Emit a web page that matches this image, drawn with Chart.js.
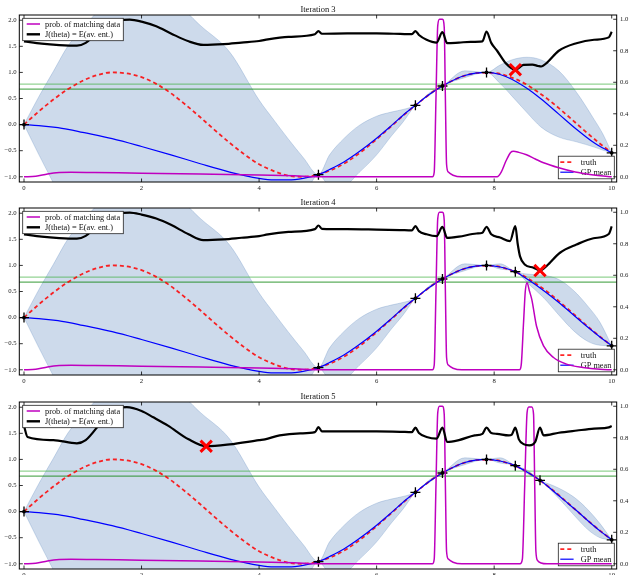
<!DOCTYPE html>
<html>
<head>
<meta charset="utf-8">
<script src="https://cdn.jsdelivr.net/npm/chart.js@4.4.0/dist/chart.umd.min.js"></script>
<style>
  html, body { margin: 0; padding: 0; background: #fff; width: 629px; height: 575px; overflow: hidden; }
  .panel { position: absolute; left: 0; width: 629px; height: 193px; }
</style>
</head>
<body>
<div class="panel" style="top:0px"><canvas id="iter3" width="629" height="193"></canvas></div>
<div class="panel" style="top:193px"><canvas id="iter4" width="629" height="193"></canvas></div>
<div class="panel" style="top:387px"><canvas id="iter5" width="629" height="193"></canvas></div>
<script>
// ---- data ----
const iterations = [3, 4, 5];

const xTicks = [0, 2, 4, 6, 8, 10];
const leftTicks = [-1.0, -0.5, 0.0, 0.5, 1.0, 1.5, 2.0];
const rightTicks = [0.0, 0.2, 0.4, 0.6, 0.8, 1.0];

// true function
const truthX = [0,0.25,0.5,0.75,1,1.25,1.5,1.75,2,2.25,2.5,2.75,3,3.25,3.5,3.75,4,4.25,4.5,4.75,5,
                5.25,5.5,5.75,6,6.25,6.5,6.75,7,7.25,7.5,7.75,8,8.25,8.5,8.75,9,9.25,9.5,9.75,10];
const truthY = [0.00,0.25,0.48,0.68,0.84,0.95,1.00,0.98,0.91,0.78,0.60,0.38,0.14,-0.11,-0.35,-0.57,-0.76,-0.89,-0.98,-1.00,-0.96,
                -0.86,-0.71,-0.51,-0.28,-0.03,0.22,0.45,0.66,0.82,0.94,0.99,0.99,0.92,0.80,0.62,0.41,0.17,-0.08,-0.32,-0.54];

// horizontal reference levels
const levelX = [-1, 11];
const levelHigh = 0.775;
const levelLow = 0.68;

// GP posterior: mean with upper and lower edges of the shaded band
const gpX3 = [0,0.25,0.5,0.75,1,1.5,2,2.5,3,3.5,4,4.25,4.5,4.75,5.01,5.2,5.45,5.7,6,6.25,6.45,6.66,6.9,7.12,7.5,7.87,8.1,8.3,8.55,8.8,9.1,9.4,9.7,9.85,10];
const gpMean3 = [0,-0.02,-0.05,-0.09,-0.15,-0.27,-0.42,-0.58,-0.75,-0.91,-1.03,-1.06,-1.06,-1.03,-0.96,-0.86,-0.71,-0.52,-0.26,-0.02,0.18,0.37,0.58,0.74,0.94,1.0,0.96,0.87,0.70,0.49,0.20,-0.09,-0.35,-0.45,-0.54];
const gpUpper3 = [0,0.53,1.02,1.51,1.85,2.43,2.68,2.42,1.90,1.39,0.47,0.09,-0.28,-0.63,-0.96,
                  -0.58,-0.26,-0.02,0.16,0.24,0.29,0.37,0.61,0.74,1.03,1.0,1.14,1.24,1.29,1.24,1.03,0.62,0.10,-0.18,-0.54];
const gpLower3 = [0,-0.57,-1.12,-1.69,-2.15,-2.97,-3.52,-3.58,-3.40,-3.21,-2.53,-2.21,-1.84,-1.43,-0.96,
                  -1.16,-1.16,-0.92,-0.58,-0.22,0.05,0.37,0.56,0.74,0.90,1.0,0.79,0.55,0.24,-0.05,-0.24,-0.33,-0.43,-0.49,-0.54];

const gpX4 = [0,0.25,0.5,0.75,1,1.5,2,2.5,3,3.5,4,4.25,4.5,4.75,5.01,5.2,5.45,5.7,6,6.25,6.45,6.66,6.9,7.12,7.5,7.87,8.1,8.36,8.6,8.85,9.1,9.35,9.6,9.8,10];
const gpMean4 = [0,-0.02,-0.05,-0.09,-0.15,-0.27,-0.42,-0.58,-0.75,-0.91,-1.03,-1.06,-1.06,-1.03,-0.96,-0.86,-0.71,-0.52,-0.26,-0.02,0.18,0.37,0.58,0.74,0.94,1.0,0.97,0.88,0.71,0.51,0.29,0.05,-0.19,-0.37,-0.54];
const gpUpper4 = [0,0.53,1.02,1.51,1.85,2.43,2.68,2.42,1.90,1.39,0.47,0.09,-0.28,-0.63,-0.96,
                  -0.58,-0.26,-0.02,0.16,0.24,0.29,0.37,0.61,0.74,1.03,1.0,1.03,0.88,0.83,0.81,0.73,0.52,0.21,-0.09,-0.54];
const gpLower4 = [0,-0.57,-1.12,-1.69,-2.15,-2.97,-3.52,-3.58,-3.40,-3.21,-2.53,-2.21,-1.84,-1.43,-0.96,
                  -1.16,-1.16,-0.92,-0.58,-0.22,0.05,0.37,0.56,0.74,0.90,1.0,0.93,0.88,0.63,0.37,0.05,-0.25,-0.46,-0.53,-0.54];

const gpX5 = [0,0.25,0.5,0.75,1,1.5,2,2.5,3,3.5,4,4.25,4.5,4.75,5.01,5.2,5.45,5.7,6,6.25,6.45,6.66,6.9,7.12,7.5,7.87,8.1,8.36,8.57,8.78,9.0,9.2,9.4,9.6,9.8,10];
const gpMean5 = [0,-0.02,-0.05,-0.09,-0.15,-0.27,-0.42,-0.58,-0.75,-0.91,-1.03,-1.06,-1.06,-1.03,-0.96,-0.86,-0.71,-0.52,-0.26,-0.02,0.18,0.37,0.58,0.74,0.94,1.0,0.97,0.88,0.75,0.60,0.40,0.21,0.02,-0.18,-0.37,-0.54];
const gpUpper5 = [0,0.53,1.02,1.51,1.85,2.43,2.68,2.42,1.90,1.39,0.47,0.09,-0.28,-0.63,-0.96,
                  -0.58,-0.26,-0.02,0.16,0.24,0.29,0.37,0.61,0.74,1.03,1.0,1.03,0.88,0.79,0.60,0.50,0.39,0.24,0.03,-0.23,-0.54];
const gpLower5 = [0,-0.57,-1.12,-1.69,-2.15,-2.97,-3.52,-3.58,-3.40,-3.21,-2.53,-2.21,-1.84,-1.43,-0.96,
                  -1.16,-1.16,-0.92,-0.58,-0.22,0.05,0.37,0.56,0.74,0.90,1.0,0.93,0.88,0.72,0.60,0.37,0.13,-0.12,-0.35,-0.50,-0.54];

// evaluated points
const obsX3 = [0,5.01,6.66,7.12,7.87,10];
const obsY3 = [0,-0.96,0.37,0.74,1.0,-0.54];
const obsX4 = [0,5.01,6.66,7.12,7.87,8.36,10];
const obsY4 = [0,-0.96,0.37,0.74,1.0,0.88,-0.54];
const obsX5 = [0,5.01,6.66,7.12,7.87,8.36,8.78,10];
const obsY5 = [0,-0.96,0.37,0.74,1.0,0.88,0.60,-0.54];

// J(theta) = E(av. ent.)
const jX3 = [0,0.3,0.6,0.9,1.05,1.2,1.4,1.6,1.8,2.0,2.25,2.5,2.8,3.05,3.4,3.7,4.0,4.15,4.5,4.95,5.01,5.07,5.5,6.0,6.4,6.6,6.66,6.72,6.85,7.02,7.12,7.2,7.4,7.6,7.8,7.87,7.95,8.05,8.2,8.36,8.5,8.65,8.75,8.8,8.9,9.1,9.4,9.7,9.95,10];
const jY3 = [0.86,0.845,0.836,0.832,0.85,0.9,0.965,0.993,0.998,0.985,0.955,0.91,0.86,0.837,0.842,0.852,0.862,0.872,0.888,0.905,0.925,0.908,0.91,0.91,0.907,0.905,0.925,0.9,0.87,0.852,0.918,0.848,0.852,0.857,0.86,0.922,0.85,0.8,0.72,0.68,0.71,0.712,0.703,0.7,0.725,0.8,0.848,0.87,0.885,0.92];
const jX4 = [0,0.3,0.6,0.9,1.05,1.2,1.4,1.6,1.8,2.0,2.25,2.5,2.8,3.05,3.4,3.7,4.0,4.15,4.5,4.95,5.01,5.07,5.5,6.0,6.4,6.6,6.66,6.72,6.85,7.02,7.12,7.2,7.4,7.7,7.8,7.87,7.95,8.1,8.27,8.36,8.4,8.44,8.52,8.67,8.78,8.89,9.12,9.4,9.69,9.95,10];
const jY4 = [0.86,0.845,0.836,0.832,0.85,0.9,0.965,0.993,0.998,0.985,0.96,0.92,0.86,0.823,0.828,0.838,0.848,0.86,0.875,0.893,0.916,0.895,0.893,0.89,0.887,0.885,0.912,0.88,0.86,0.848,0.907,0.837,0.845,0.865,0.87,0.907,0.86,0.84,0.817,0.912,0.8,0.72,0.669,0.648,0.63,0.658,0.743,0.795,0.835,0.862,0.91];
const jX5 = [0,0.06,0.5,0.9,1.05,1.25,1.45,1.75,2.0,2.2,2.45,2.8,3.1,3.5,4.0,4.1,4.35,4.7,4.95,5.01,5.07,5.5,6.0,6.4,6.6,6.66,6.72,6.85,7.02,7.12,7.2,7.4,7.67,7.8,7.87,7.95,8.05,8.25,8.3,8.36,8.42,8.5,8.6,8.7,8.78,8.84,9.1,9.41,9.7,9.95,10];
const jY5 = [0.875,0.805,0.785,0.765,0.785,0.87,0.975,0.994,0.97,0.93,0.877,0.79,0.746,0.758,0.785,0.79,0.815,0.828,0.836,0.867,0.84,0.84,0.84,0.838,0.836,0.864,0.83,0.805,0.794,0.864,0.773,0.785,0.815,0.825,0.864,0.83,0.825,0.815,0.82,0.864,0.79,0.76,0.752,0.775,0.864,0.815,0.832,0.846,0.858,0.866,0.875];

// probability of matching data
const probX3 = [0,0.2,0.4,0.6,0.8,1.2,2,3,4,4.6,5,6.9,6.95,6.98,7.01,7.04,7.07,7.12,7.15,7.17,7.19,7.22,7.3,7.45,8.05,8.12,8.2,8.28,8.33,8.42,8.55,8.7,8.84,9.1,9.38,9.66,9.9,10];
const probY3 = [0,0.003,0.018,0.027,0.029,0.027,0.023,0.018,0.012,0.006,0,0,0,0.03,0.5,0.96,1.0,1.0,0.95,0.5,0.08,0.03,0.01,0,0,0.03,0.1,0.155,0.162,0.155,0.14,0.113,0.089,0.057,0.03,0.013,0.003,0];
const probX4 = [0,0.2,0.4,0.6,0.8,1.2,2,3,4,4.6,5,6.9,6.95,6.98,7.01,7.04,7.07,7.12,7.15,7.17,7.19,7.22,7.3,7.45,8.43,8.46,8.5,8.53,8.56,8.6,8.64,8.72,8.84,9.01,9.23,9.51,9.8,10];
const probY4 = [0,0.003,0.018,0.027,0.029,0.027,0.023,0.018,0.012,0.006,0,0,0,0.03,0.5,0.96,1.0,1.0,0.95,0.5,0.08,0.03,0.01,0,0,0.03,0.3,0.5,0.553,0.5,0.447,0.278,0.152,0.078,0.036,0.015,0.003,0];
const probX5 = [0,0.2,0.4,0.6,0.8,1.2,2,3,4,4.6,5,6.9,6.95,6.98,7.01,7.04,7.07,7.12,7.15,7.17,7.19,7.22,7.3,7.45,8.44,8.48,8.52,8.56,8.59,8.64,8.67,8.69,8.71,8.74,8.8,8.9,10];
const probY5 = [0,0.003,0.018,0.027,0.029,0.027,0.023,0.018,0.012,0.006,0,0,0,0.03,0.5,0.96,1.0,1.0,0.95,0.5,0.08,0.03,0.01,0,0,0.03,0.5,0.96,0.995,0.995,0.95,0.5,0.08,0.02,0.005,0,0];

// next point chosen (minimum of J)
const nextX = [8.36, 8.78, 3.10];
const nextJ = [0.68, 0.63, 0.746];

// ---- drawing ----
const FONT = '"Liberation Serif", "DejaVu Serif", serif';
const BAND = 'rgba(70,120,180,0.27)';
const BAND_EDGE = 'rgba(70,120,180,0.35)';
const TRUTH_COLOR = 'rgba(255,0,0,0.85)';
const MEAN_COLOR = '#0000ff';
const PROB_COLOR = '#bf00bf';

function pts(xs, ys) { return xs.map((x, i) => ({ x: x, y: ys[i] })); }
function fmt1(v) {
  const s = Number(v).toFixed(1);
  return s.charAt(0) === '-' ? '\u2212' + s.slice(1) : s;
}

function drawLine(ctx, x1, y1, x2, y2) {
  ctx.beginPath(); ctx.moveTo(x1, y1); ctx.lineTo(x2, y2); ctx.stroke();
}

function drawLegendBox(ctx, box, rows) {
  ctx.save();
  ctx.fillStyle = '#fff';
  ctx.fillRect(box.x, box.y, box.w, box.h);
  ctx.strokeStyle = '#222';
  ctx.lineWidth = 0.8;
  ctx.strokeRect(box.x, box.y, box.w, box.h);
  ctx.font = '8.3px ' + FONT;
  ctx.textBaseline = 'middle';
  ctx.textAlign = 'left';
  rows.forEach(r => {
    ctx.strokeStyle = r.color;
    ctx.lineWidth = r.width;
    ctx.setLineDash(r.dash || []);
    drawLine(ctx, box.x + r.s0, r.y, box.x + r.s1, r.y);
    ctx.setLineDash([]);
    ctx.fillStyle = '#111';
    ctx.fillText(r.label, box.x + r.tx, r.y + 0.5);
  });
  ctx.restore();
}

// legend for the left-axis curves (bottom right)
function drawModelLegend(chart) {
  const ca = chart.chartArea;
  const box = { x: ca.right - 58.4, y: ca.bottom - 25.8, w: 56, h: 22.6 };
  const ds = chart.data.datasets;
  drawLegendBox(chart.ctx, box, [
    { label: ds[4].label, color: TRUTH_COLOR, width: 1.8, dash: [4, 3], y: box.y + 6, s0: 2, s1: 15.3, tx: 22.4 },
    { label: ds[5].label, color: MEAN_COLOR, width: 1.2, y: box.y + 16, s0: 2, s1: 15.3, tx: 22.4 }
  ]);
}

// legend for the right-axis curves (top left)
function drawCriterionLegend(chart) {
  const ca = chart.chartArea;
  const box = { x: ca.left + 3.4, y: ca.top + 3.3, w: 100.6, h: 22.4 };
  const ds = chart.data.datasets;
  drawLegendBox(chart.ctx, box, [
    { label: ds[8].label, color: PROB_COLOR, width: 1.5, y: box.y + 5.7, s0: 4, s1: 17.3, tx: 22.3 },
    { label: ds[9].label, color: '#000', width: 2.4, y: box.y + 16, s0: 4, s1: 17.3, tx: 22.3 }
  ]);
}

const framePlugin = {
  id: 'frame',
  beforeDatasetDraw(chart, args) {
    if (chart.data.datasets[args.index].legendBefore) drawModelLegend(chart);
  },
  afterDraw(chart) {
    const ctx = chart.ctx, ca = chart.chartArea;
    const sx = chart.scales.x, yl = chart.scales.yL, yr = chart.scales.yR;
    ctx.save();
    ctx.strokeStyle = '#000';
    ctx.lineWidth = 1;
    ctx.strokeRect(ca.left, ca.top, ca.right - ca.left, ca.bottom - ca.top);
    const tl = 3.5;
    ctx.lineWidth = 0.8;
    sx.ticks.forEach(t => {
      const p = sx.getPixelForValue(t.value);
      drawLine(ctx, p, ca.bottom, p, ca.bottom - tl);
      drawLine(ctx, p, ca.top, p, ca.top + tl);
    });
    yl.ticks.forEach(t => {
      const p = yl.getPixelForValue(t.value);
      drawLine(ctx, ca.left, p, ca.left + tl, p);
    });
    yr.ticks.forEach(t => {
      const p = yr.getPixelForValue(t.value);
      drawLine(ctx, ca.right, p, ca.right - tl, p);
    });
    ctx.fillStyle = '#111';
    ctx.font = '8.5px ' + FONT;
    ctx.textAlign = 'center';
    ctx.textBaseline = 'alphabetic';
    ctx.fillText(chart.options.plugins.frame.title, (ca.left + ca.right) / 2, ca.top - 2.7);
    ctx.restore();
    drawCriterionLegend(chart);
  }
};

function makePanel(canvasId, iteration, p) {
  const datasets = [
    { label: 'band upper', data: pts(p.gpX, p.gpUpper), yAxisID: 'yL', borderColor: BAND_EDGE, borderWidth: 0.7, fill: false, order: 20, clip: 0 },
    { label: 'band lower', data: pts(p.gpX, p.gpLower), yAxisID: 'yL', borderColor: BAND_EDGE, borderWidth: 0.7, fill: '-1', backgroundColor: BAND, order: 19, clip: 0 },
    { label: 'upper level', data: pts(levelX, [levelHigh, levelHigh]), yAxisID: 'yL', borderColor: 'rgba(40,170,40,0.5)', borderWidth: 1.4, order: 18 },
    { label: 'lower level', data: pts(levelX, [levelLow, levelLow]), yAxisID: 'yL', borderColor: 'rgba(0,128,0,0.8)', borderWidth: 1, order: 17 },
    { label: 'truth', data: pts(truthX, truthY), yAxisID: 'yL', borderColor: TRUTH_COLOR, borderWidth: 1.8, borderDash: [4, 3], order: 16 },
    { label: 'GP mean', data: pts(p.gpX, p.gpMean), yAxisID: 'yL', borderColor: MEAN_COLOR, borderWidth: 1.2, order: 15 },
    { label: 'data', data: pts(p.obsX, p.obsY), yAxisID: 'yL', showLine: false, pointStyle: 'cross', pointRadius: 5, pointHoverRadius: 5, pointBorderWidth: 1.3, pointBorderColor: '#000', order: 14 },
    { label: 'data core', data: pts(p.obsX, p.obsY), yAxisID: 'yL', showLine: false, pointStyle: 'circle', pointRadius: 1.9, pointHoverRadius: 1.9, pointBorderWidth: 0, pointBackgroundColor: '#000', order: 13 },
    { label: 'prob. of matching data', data: pts(p.probX, p.probY), yAxisID: 'yR', borderColor: PROB_COLOR, borderWidth: 1.5, order: 12, legendBefore: true },
    { label: 'J(theta) = E(av. ent.)', data: pts(p.jX, p.jY), yAxisID: 'yR', borderColor: '#000', borderWidth: 2.2, order: 11 },
    { label: 'next', data: [{ x: p.nextX, y: p.nextJ }], yAxisID: 'yR', showLine: false, pointStyle: 'crossRot', pointRadius: 8, pointHoverRadius: 8, pointBorderWidth: 3, pointBorderColor: '#ff0000', order: 10 }
  ];
  const tickFont = { family: FONT, size: 6.7 };
  new Chart(document.getElementById(canvasId), {
    type: 'line',
    data: { datasets: datasets },
    options: {
      responsive: false,
      animation: false,
      devicePixelRatio: 1,
      events: [],
      layout: { padding: { top: 15, left: 0, right: 0, bottom: 0 } },
      elements: {
        point: { radius: 0, hoverRadius: 0 },
        line: { cubicInterpolationMode: 'monotone', fill: false }
      },
      plugins: {
        legend: { display: false },
        tooltip: { enabled: false },
        title: { display: false },
        frame: { title: 'Iteration ' + iteration }
      },
      scales: {
        x: {
          type: 'linear', position: 'bottom', min: -0.08, max: 10.085,
          grid: { display: false, drawTicks: false }, border: { display: false },
          afterBuildTicks: s => { s.ticks = xTicks.map(v => ({ value: v })); },
          afterFit: s => { s.height = 10.5; },
          ticks: { font: tickFont, color: '#222', padding: 2, autoSkip: false, maxRotation: 0, callback: v => String(v) }
        },
        yL: {
          type: 'linear', position: 'left', min: -1.1, max: 2.1,
          grid: { display: false, drawTicks: false }, border: { display: false },
          afterBuildTicks: s => { s.ticks = leftTicks.map(v => ({ value: v })); },
          afterFit: s => { s.width = 19.3; },
          ticks: { font: tickFont, color: '#222', padding: 2.6, autoSkip: false, callback: v => fmt1(v) }
        },
        yR: {
          type: 'linear', position: 'right', min: -0.033, max: 1.027,
          grid: { display: false, drawTicks: false }, border: { display: false },
          afterBuildTicks: s => { s.ticks = rightTicks.map(v => ({ value: v })); },
          afterFit: s => { s.width = 12.3; },
          ticks: { font: tickFont, color: '#222', padding: 3.3, autoSkip: false, callback: v => fmt1(v) }
        }
      }
    },
    plugins: [framePlugin]
  });
}

makePanel('iter3', iterations[0], { gpX: gpX3, gpMean: gpMean3, gpUpper: gpUpper3, gpLower: gpLower3, obsX: obsX3, obsY: obsY3, jX: jX3, jY: jY3, probX: probX3, probY: probY3, nextX: nextX[0], nextJ: nextJ[0] });
makePanel('iter4', iterations[1], { gpX: gpX4, gpMean: gpMean4, gpUpper: gpUpper4, gpLower: gpLower4, obsX: obsX4, obsY: obsY4, jX: jX4, jY: jY4, probX: probX4, probY: probY4, nextX: nextX[1], nextJ: nextJ[1] });
makePanel('iter5', iterations[2], { gpX: gpX5, gpMean: gpMean5, gpUpper: gpUpper5, gpLower: gpLower5, obsX: obsX5, obsY: obsY5, jX: jX5, jY: jY5, probX: probX5, probY: probY5, nextX: nextX[2], nextJ: nextJ[2] });
</script>
</body>
</html>
